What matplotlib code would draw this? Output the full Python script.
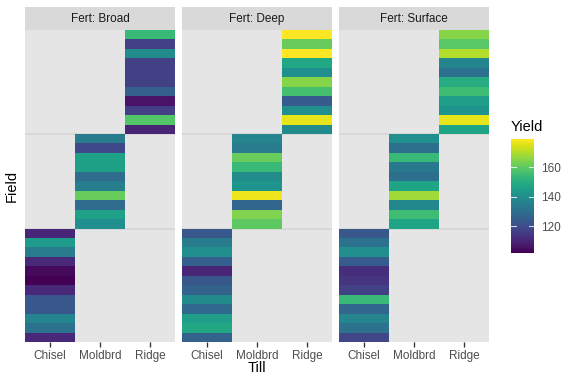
import matplotlib
matplotlib.use("Agg")
import matplotlib.pyplot as plt
import numpy as np
from matplotlib.colors import Normalize

plt.rcParams['font.family'] = ['Liberation Sans', 'DejaVu Sans']

ferts = ["Broad", "Deep", "Surface"]
tills = ["Chisel", "Moldbrd", "Ridge"]

# Yield values per Till, listed from top row to bottom row
broad_ridge = [154, 117, 139, 117, 117, 117, 125, 106, 116, 158, 110]
broad_moldbrd = [134, 119, 146, 146, 129, 135, 161, 129, 146, 140]
broad_chisel = [110, 144, 134, 111, 104, 102, 111, 123, 123, 137, 131, 111]

deep_ridge = [179, 161, 179, 148, 140, 165, 156, 124, 140, 176, 139]
deep_moldbrd = [137, 134, 161, 154, 139, 142, 177, 127, 164, 160]
deep_chisel = [123, 134, 140, 125, 110, 123, 126, 139, 128, 145, 148, 126]

surface_ridge = [165, 159, 170, 137, 131, 150, 155, 145, 142, 176, 147]
surface_moldbrd = [140, 130, 154, 133, 130, 147, 168, 138, 155, 147]
surface_chisel = [123, 131, 140, 124, 112, 114, 117, 154, 127, 137, 131, 118]

data = {
    "Broad": {"Chisel": broad_chisel, "Moldbrd": broad_moldbrd, "Ridge": broad_ridge},
    "Deep": {"Chisel": deep_chisel, "Moldbrd": deep_moldbrd, "Ridge": deep_ridge},
    "Surface": {"Chisel": surface_chisel, "Moldbrd": surface_moldbrd, "Ridge": surface_ridge},
}

vmin, vmax = 102, 179
norm = Normalize(vmin=vmin, vmax=vmax)
cmap = plt.get_cmap("viridis")

W, H = 576, 384
fig = plt.figure(figsize=(6, 4), dpi=96)

def fx(px):
    return px / W

def fy(py):
    return 1 - py / H

panel_x = [25, 182, 339]
panel_w = 150
ptop, pbot = 30, 342
strip_top = 7

n_chisel = len(broad_chisel)
n_mold = len(broad_moldbrd)
n_ridge = len(broad_ridge)
ntot = n_chisel + n_mold + n_ridge
offsets = {"Chisel": 0, "Moldbrd": n_chisel, "Ridge": n_chisel + n_mold}

for i, fert in enumerate(ferts):
    ax = fig.add_axes([fx(panel_x[i]), fy(pbot), fx(panel_w), (pbot - ptop) / H])
    ax.set_facecolor("#e5e5e5")
    for b in [n_chisel, n_chisel + n_mold]:
        ax.axhline(b, color="#d4d4d4", lw=1.2, zorder=0.5)
    for j, till in enumerate(tills):
        vals = data[fert][till]
        n = len(vals)
        off = offsets[till]
        for k, v in enumerate(vals):
            ybot = off + (n - 1 - k)
            ax.add_patch(plt.Rectangle((j - 0.5, ybot), 1, 1, facecolor=cmap(norm(v)),
                                       edgecolor="none", zorder=1))
    ax.set_xlim(-0.5, 2.5)
    ax.set_ylim(0, ntot)
    ax.set_xticks(range(3))
    ax.set_xticklabels(tills, fontsize=8.8, color="#4d4d4d")
    ax.tick_params(axis="x", length=3.5, width=1.0, color="#333333", pad=2.5)
    ax.set_yticks([])
    for s in ax.spines.values():
        s.set_visible(False)
    # strip
    sax = fig.add_axes([fx(panel_x[i]), fy(ptop), fx(panel_w), (ptop - strip_top) / H])
    sax.set_facecolor("#d9d9d9")
    sax.set_xticks([]); sax.set_yticks([])
    for s in sax.spines.values():
        s.set_visible(False)
    sax.text(0.5, 0.47, f"Fert: {fert}", ha="center", va="center", fontsize=8.8,
             color="#1a1a1a", transform=sax.transAxes)

fig.text(fx(257), fy(368), "Till", ha="center", va="center", fontsize=11, color="black")
fig.text(fx(12), fy(186), "Field", ha="center", va="center", rotation=90, fontsize=11, color="black")

# colorbar
cax = fig.add_axes([fx(511), fy(253), fx(23), (253 - 139) / H])
grad = np.linspace(vmin, vmax, 300).reshape(-1, 1)
cax.imshow(grad, aspect="auto", cmap=cmap, norm=norm, origin="lower",
           extent=[0, 1, vmin, vmax])
cax.set_xlim(0, 1)
cax.set_ylim(vmin, vmax)
cax.set_xticks([])
ticks = [120, 140, 160]
cax.set_yticks(ticks)
cax.yaxis.tick_right()
cax.set_yticklabels([str(t) for t in ticks], fontsize=8.8, color="#4d4d4d")
cax.tick_params(axis="y", length=0, pad=5)
for t in ticks:
    cax.plot([0, 0.2], [t, t], color="white", lw=0.8, alpha=0.8)
    cax.plot([0.8, 1], [t, t], color="white", lw=0.8, alpha=0.8)
for s in cax.spines.values():
    s.set_visible(False)
fig.text(fx(511), fy(127), "Yield", ha="left", va="center", fontsize=11, color="black")

fig.savefig("out.png", dpi=96)
